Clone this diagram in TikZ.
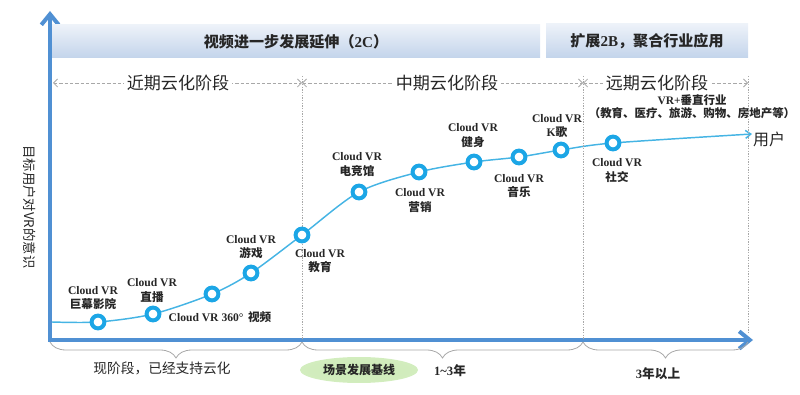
\documentclass[tikz,border=0pt]{standalone}
\usepackage{fontspec}
\setmainfont{Liberation Serif}
\newfontfamily\cjk{Noto Sans CJK SC}
\usetikzlibrary{arrows.meta,decorations.pathreplacing,backgrounds,shapes.geometric}
\definecolor{axisblue}{HTML}{5090D3}
\definecolor{dotblue}{HTML}{1CA6E6}
\definecolor{curveblue}{HTML}{45B4E4}
\definecolor{guide}{HTML}{A8A8A8}
\definecolor{bantop}{HTML}{EDF2F9}
\definecolor{banbot}{HTML}{C3D4EB}
\definecolor{txt}{HTML}{262626}
\newcommand\zh[1]{{\cjk #1}}
\pgfdeclareradialshading{ellglow}{\pgfpoint{0bp}{0bp}}{rgb(0bp)=(0.80,0.92,0.72); rgb(30bp)=(0.83,0.93,0.75); rgb(50bp)=(0.93,0.97,0.90)}
\begin{document}
\begin{tikzpicture}[x=0.75pt,y=-0.75pt,
  axis/.style={draw=axisblue, line width=3pt, line join=miter,
    {Straight Barb[length=8pt,width=13pt]}-{Straight Barb[length=8pt,width=13pt]}},
  banner/.style={top color=bantop, bottom color=banbot, inner sep=0pt,
    font=\cjk\bfseries\fontsize{11.3}{13}\selectfont, text=txt},
  phase/.style={fill=white, inner sep=2pt, font=\cjk\fontsize{12.8}{14}\selectfont, text=txt},
  phasearrow/.style={draw=guide, line width=0.6pt, dash pattern=on 2.5pt off 1.5pt,
    {Straight Barb[length=3pt,width=6pt]}-{Straight Barb[length=3pt,width=6pt]}},
  guideline/.style={draw=guide, line width=0.6pt, dash pattern=on 1pt off 1pt},
  hub/.style={circle, draw=dotblue, line width=3pt, fill=white, minimum size=9.6pt, inner sep=0pt},
  lab/.style={align=center, font=\bfseries\fontsize{8.7}{10.8}\selectfont, text=txt, inner sep=0pt},
  curve/.style={draw=curveblue, line width=1.1pt},
  bracestyle/.style={draw=guide, line width=0.6pt, decorate, decoration={brace, mirror, amplitude=12pt}},
  bottomtext/.style={font=\cjk\fontsize{10.3}{12}\selectfont, text=txt},
  yeartext/.style={font=\bfseries\fontsize{9.5}{11}\selectfont, text=txt}
]
\useasboundingbox (0,0) rectangle (800,395);

% axes
\coordinate (O) at (50,340);
\coordinate (ytop) at (50,11);
\coordinate (xend) at (753,340);
\draw[axis] (ytop) -- (O) -- (xend);

% banners
\node[banner, minimum width=366pt, minimum height=24.75pt] (b1) at (296,41.5) {视频进一步发展延伸（{\rmfamily 2C}）};
\node[banner, minimum width=151.5pt, minimum height=25.5pt] (b2) at (647,41) {扩展{\rmfamily 2B}，聚合行业应用};

% guides
\coordinate (g1t) at (302,76); \coordinate (g1b) at (302,340);
\coordinate (g2t) at (583,76); \coordinate (g2b) at (583,340);
\coordinate (g3t) at (748,76); \coordinate (g3b) at (748,334);
\draw[guideline] (g1t) -- (g1b);
\draw[guideline] (g2t) -- (g2b);
\draw[guideline] (g3t) -- (g3b);

% phase arrows
\coordinate (p0) at (53,83);
\coordinate (p1) at (302,83);
\coordinate (p2) at (583,83);
\coordinate (p3) at (748,83);
\draw[phasearrow] (p0) -- (p1);
\draw[phasearrow] (p1) -- (p2);
\draw[phasearrow] (p2) -- (p3);
\node[phase] (ph1) at (178,83) {近期云化阶段};
\node[phase] (ph2) at (447,83) {中期云化阶段};
\node[phase] (ph3) at (657,83) {远期云化阶段};

% y label
\node[font=\cjk\fontsize{10}{12}\selectfont, text=txt, rotate=-90] (ylab) at (30,207) {目标用户对VR的意识};

% hubs
\node[hub] (h1) at (98,322) {};
\node[hub] (h2) at (153,314) {};
\node[hub] (h3) at (212,294) {};
\node[hub] (h4) at (251,273) {};
\node[hub] (h5) at (302,235) {};
\node[hub] (h6) at (359,192) {};
\node[hub] (h7) at (419,172) {};
\node[hub] (h8) at (474,162) {};
\node[hub] (h9) at (519,157) {};
\node[hub] (h10) at (561,150) {};
\node[hub] (h11) at (613,143) {};
\coordinate (cs) at (52,322);
\coordinate (ce) at (752,134);
\begin{pgfonlayer}{background}
\draw[curve, -{Straight Barb[length=4pt,width=6pt]}] plot[smooth, tension=0.5] coordinates
  {(cs) (h1.center) (h2.center) (h3.center) (h4.center) (h5.center) (h6.center) (h7.center) (h8.center) (h9.center) (h10.center) (h11.center) (ce)};
\end{pgfonlayer}
\node[font=\cjk\fontsize{12}{14}\selectfont, text=txt] (user) at (769,139) {用户};

% labels
\node[lab] (l1) at (93,298) {Cloud VR\\\zh{巨幕影院}};
\node[lab] (l2) at (152,290.5) {Cloud VR\\\zh{直播}};
\node[lab] (l3) at (220,317) {Cloud VR 360°\,\zh{ 视频}};
\node[lab] (l4) at (251,247) {Cloud VR\\\zh{游戏}};
\node[lab] (l5) at (320,261) {Cloud VR\\\zh{教育}};
\node[lab] (l6) at (357,164.5) {Cloud VR\\\zh{电竞馆}};
\node[lab] (l7) at (420,200.5) {Cloud VR\\\zh{营销}};
\node[lab] (l8) at (473,135.5) {Cloud VR\\\zh{健身}};
\node[lab] (l9) at (519,186) {Cloud VR\\\zh{音乐}};
\node[lab] (l10) at (557,126) {Cloud VR\\K\zh{歌}};
\node[lab] (l11) at (617,170.5) {Cloud VR\\\zh{社交}};
\node[lab, font=\bfseries\fontsize{8.6}{9.8}\selectfont] (l12) at (692,106.5) {VR+\zh{垂直行业}\\\zh{（教育、医疗、旅游、购物、房地产等）}};

% braces
\coordinate (bA) at (50,342);
\coordinate (bB) at (302,342);
\coordinate (bC) at (583,342);
\coordinate (bD) at (748,342);
\draw[bracestyle] (bA) -- (bB);
\draw[bracestyle] (bB) -- (bC);
\draw[bracestyle] (bC) -- (bD);
\node[bottomtext] (t1) at (162,368) {现阶段，已经支持云化};
\node[ellipse, shading=ellglow, minimum width=88.5pt, minimum height=19.5pt, inner sep=0pt,
  font=\cjk\bfseries\fontsize{9}{11}\selectfont, text=txt] (base) at (359,370) {场景发展基线};
\node[yeartext] (t2) at (450,371) {1\textasciitilde3\zh{年}};
\node[yeartext] (t3) at (658,374) {3\zh{年以上}};
\end{tikzpicture}
\end{document}
